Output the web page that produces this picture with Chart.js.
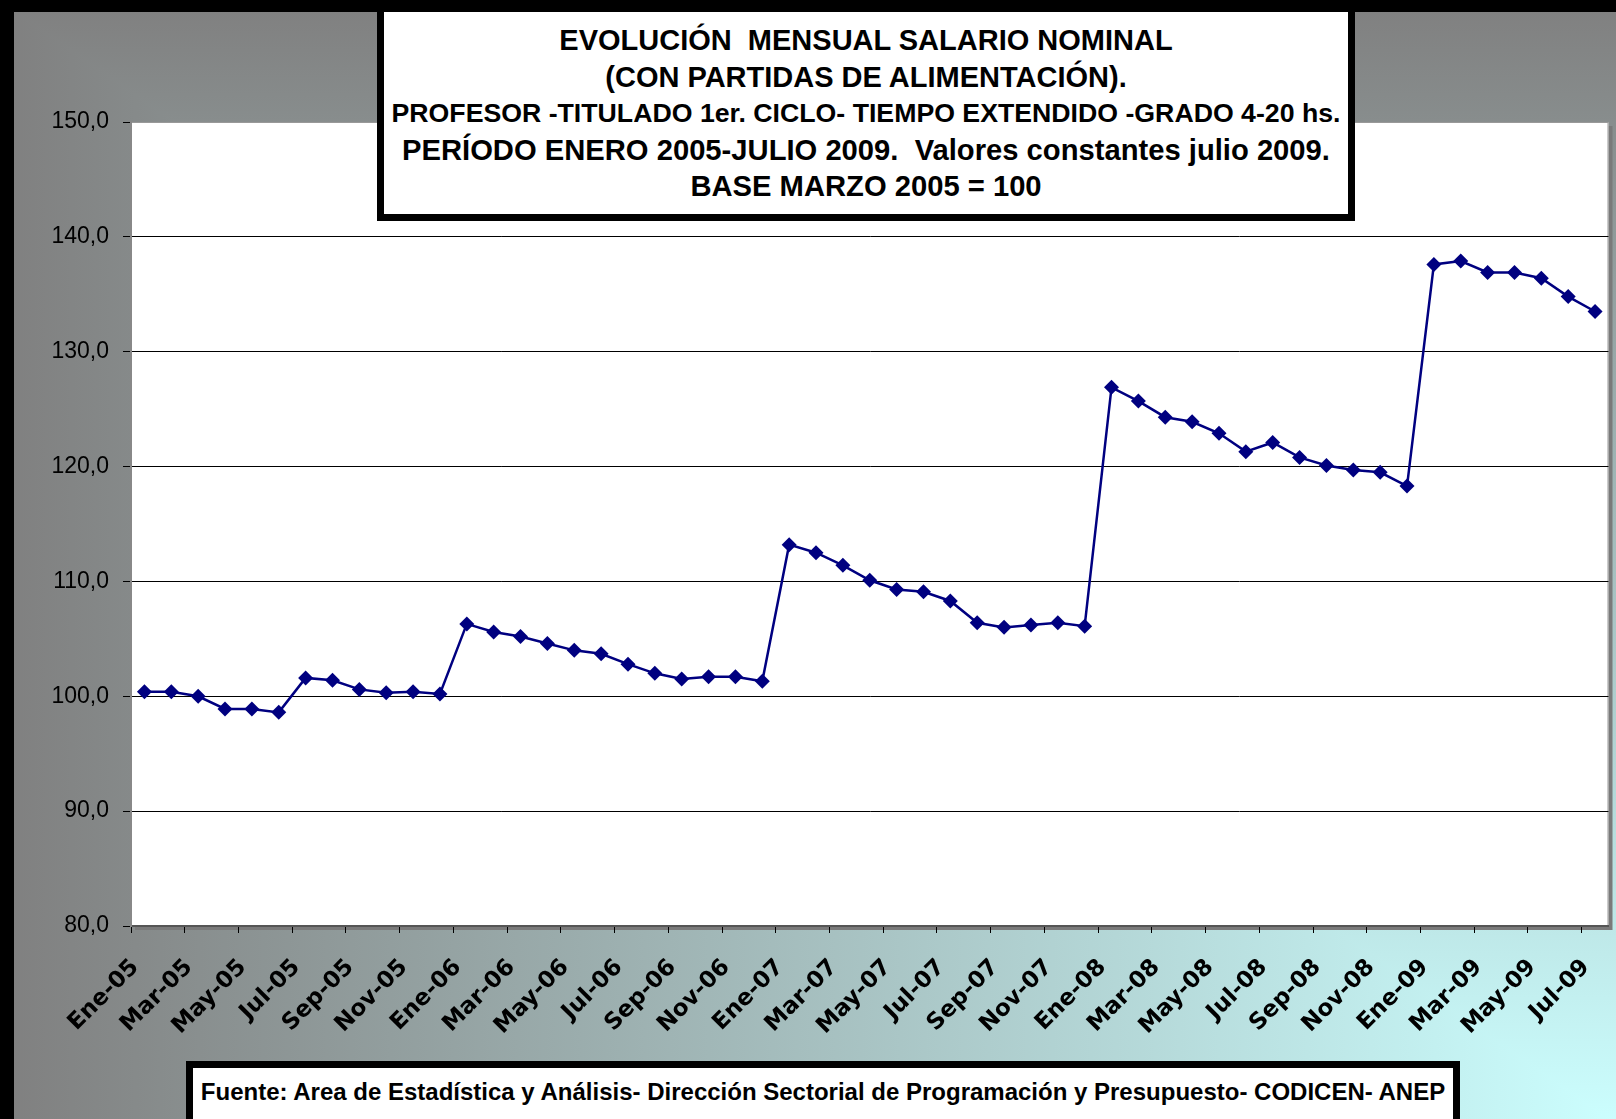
<!DOCTYPE html>
<html>
<head>
<meta charset="utf-8">
<script src="https://cdn.jsdelivr.net/npm/chart.js@4.4.0/dist/chart.umd.min.js"></script>
<style>
  body { margin: 0; width: 1616px; height: 1119px; overflow: hidden; font-family: "Liberation Sans", Arial, sans-serif; }
  #wrap { position: relative; width: 1616px; height: 1119px; }
  #salChart { position: absolute; left: 0; top: 0; }
  .box { position: absolute; background: #fff; border: 7px solid #000; box-sizing: border-box; text-align: center; font-weight: bold; color: #000; }
  #titleBox { left: 377px; top: 5px; width: 978px; height: 216px; padding-top: 10px; }
  #titleBox div { height: 36.6px; line-height: 36.6px; white-space: nowrap; }
  #footBox { left: 186px; top: 1061px; width: 1274px; height: 80px; }
  #footBox div { margin-top: 10px; font-size: 24px; white-space: nowrap; }
</style>
</head>
<body>
<div id="wrap">
  <canvas id="salChart" width="1616" height="1119"></canvas>
  <div id="titleBox" class="box">
    <div style="font-size:29px">EVOLUCIÓN&nbsp; MENSUAL SALARIO NOMINAL</div>
    <div style="font-size:29px">(CON PARTIDAS DE ALIMENTACIÓN).</div>
    <div style="font-size:26.7px">PROFESOR -TITULADO 1er. CICLO- TIEMPO EXTENDIDO -GRADO 4-20 hs.</div>
    <div style="font-size:29.2px">PERÍODO ENERO 2005-JULIO 2009.&nbsp; Valores constantes julio 2009.</div>
    <div style="font-size:29.2px">BASE MARZO 2005 = 100</div>
  </div>
  <div id="footBox" class="box">
    <div>Fuente: Area de Estadística y Análisis- Dirección Sectorial de Programación y Presupuesto- CODICEN- ANEP</div>
  </div>
</div>
<script>
// meses (categorias)
const meses = [
  'Ene-05','Feb-05','Mar-05','Abr-05','May-05','Jun-05','Jul-05','Ago-05','Sep-05','Oct-05','Nov-05','Dic-05',
  'Ene-06','Feb-06','Mar-06','Abr-06','May-06','Jun-06','Jul-06','Ago-06','Sep-06','Oct-06','Nov-06','Dic-06',
  'Ene-07','Feb-07','Mar-07','Abr-07','May-07','Jun-07','Jul-07','Ago-07','Sep-07','Oct-07','Nov-07','Dic-07',
  'Ene-08','Feb-08','Mar-08','Abr-08','May-08','Jun-08','Jul-08','Ago-08','Sep-08','Oct-08','Nov-08','Dic-08',
  'Ene-09','Feb-09','Mar-09','Abr-09','May-09','Jun-09','Jul-09'
];

// indice salario (base marzo 2005 = 100)
const salario = [
  100.4, 100.4, 100.0, 98.9, 98.9, 98.6, 101.6, 101.4, 100.6, 100.3, 100.4, 100.2,
  106.3, 105.6, 105.2, 104.6, 104.0, 103.7, 102.8, 102.0, 101.5, 101.7, 101.7, 101.3,
  113.2, 112.5, 111.4, 110.1, 109.3, 109.1, 108.3, 106.4, 106.0, 106.2, 106.4, 106.1,
  126.9, 125.7, 124.3, 123.9, 122.9, 121.3, 122.1, 120.8, 120.1, 119.7, 119.5, 118.3,
  137.6, 137.9, 136.9, 136.9, 136.4, 134.8, 133.5
];

const yMin = 80;
const yMax = 150;
const yStep = 10;

const FONT = '"Liberation Sans", Arial, sans-serif';

// fondo degradado "desde esquina", marco y area de trazado con sombra
const fondo = {
  id: 'fondo',
  beforeDraw(chart) {
    const ctx = chart.ctx;
    const W = chart.width + 10, H = chart.height + 12;
    const x0 = 8, y0 = 6;
    ctx.save();
    ctx.fillStyle = '#000';
    ctx.fillRect(0, 0, chart.width, chart.height);

    // degradado vertical en todo el fondo
    let g = ctx.createLinearGradient(0, y0, 0, H);
    g.addColorStop(0, '#808080');
    g.addColorStop(1, '#ccffff');
    ctx.fillStyle = g;
    ctx.fillRect(x0 + 6, y0 + 6, W, H);

    // triangulo inferior izquierdo: degradado horizontal
    ctx.beginPath();
    ctx.moveTo(x0, y0); ctx.lineTo(W, H); ctx.lineTo(x0, H); ctx.closePath();
    ctx.clip();
    g = ctx.createLinearGradient(x0, 0, W, 0);
    g.addColorStop(0, '#808080');
    g.addColorStop(1, '#ccffff');
    ctx.fillStyle = g;
    ctx.fillRect(x0 + 6, y0 + 6, W, H);
    ctx.restore();

    const a = chart.chartArea;
    ctx.save();
    ctx.fillStyle = '#7a7a7a';
    ctx.fillRect(a.left + 4, a.top + 4, a.right - a.left, a.bottom - a.top);
    ctx.fillStyle = '#fff';
    ctx.fillRect(a.left, a.top, a.right - a.left, a.bottom - a.top);
    ctx.strokeStyle = '#999';
    ctx.lineWidth = 1;
    ctx.strokeRect(a.left + 0.5, a.top + 0.5, a.right - a.left - 1, a.bottom - a.top - 1);
    ctx.restore();
  }
};

new Chart(document.getElementById('salChart'), {
  type: 'line',
  data: {
    labels: meses,
    datasets: [{
      data: salario,
      borderColor: '#000080',
      backgroundColor: '#000080',
      borderWidth: 2.5,
      pointStyle: 'rectRot',
      pointRadius: 7.5,
      pointBorderWidth: 0,
      tension: 0,
      fill: false
    }]
  },
  options: {
    responsive: false,
    animation: false,
    layout: { padding: { top: 122, right: 7, left: 0, bottom: 0 } },
    plugins: { legend: { display: false }, tooltip: { enabled: false } },
    scales: {
      x: {
        offset: true,
        grid: {
          offset: true,
          drawOnChartArea: false,
          drawTicks: true,
          tickLength: 7,
          color: c => (c.index % 2 === 0 ? '#000' : 'rgba(0,0,0,0)'),
          lineWidth: 1
        },
        border: { display: true, color: '#555', width: 2 },
        ticks: {
          autoSkip: false,
          minRotation: 45,
          maxRotation: 45,
          padding: 21,
          labelOffset: -9,
          color: '#000',
          font: { family: '"DejaVu Sans", sans-serif', size: 23, weight: 'bold' },
          callback: (v, i) => (i % 2 === 0 ? meses[i] : '')
        },
        afterFit: s => { s.height = 193; s.paddingLeft = 0; s.paddingRight = 0; }
      },
      y: {
        min: yMin,
        max: yMax,
        grid: {
          color: c => (c.tick && c.tick.value === yMax ? '#999' : '#000'),
          tickColor: '#000',
          lineWidth: 1,
          tickLength: 8
        },
        border: { color: '#888', width: 2 },
        ticks: {
          stepSize: yStep,
          padding: 14,
          color: '#000',
          font: { family: FONT, size: 23 },
          callback: v => v.toFixed(1).replace('.', ',')
        },
        afterFit: s => { s.width = 131; }
      }
    }
  },
  plugins: [fondo]
});
</script>
</body>
</html>
